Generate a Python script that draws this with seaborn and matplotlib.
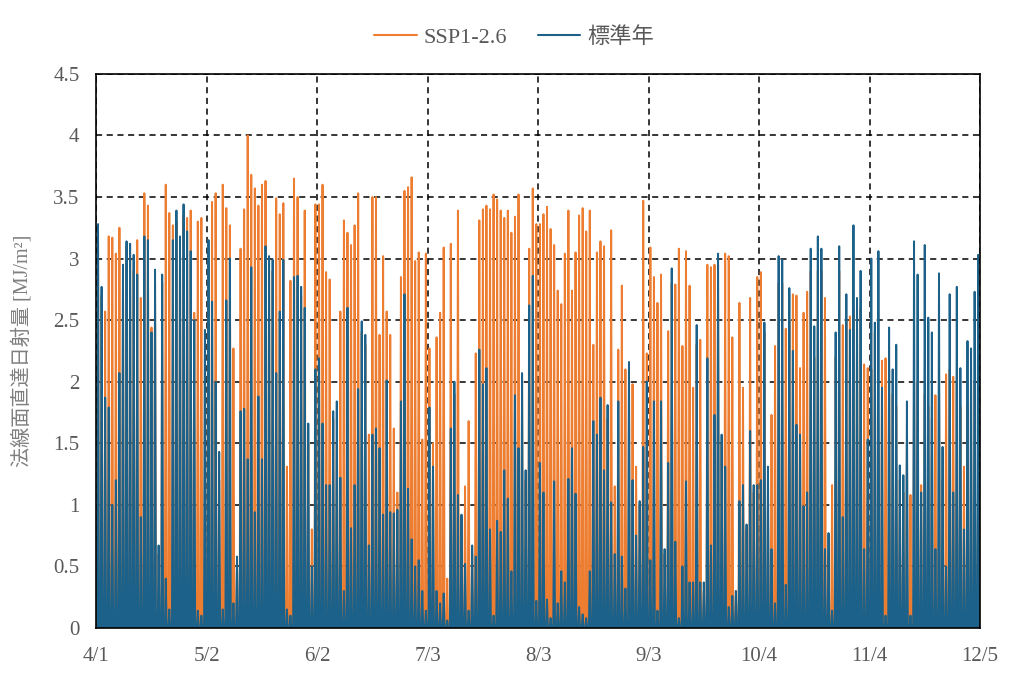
import numpy as np
import pandas as pd
import matplotlib
matplotlib.use("Agg")
import matplotlib.pyplot as plt
import matplotlib.dates as mdates
import seaborn as sns

# daily peak values (MJ/m2), 4/1 .. 12/4
ssp = [
    3.2, 2.7, 2.57, 3.18, 3.17, 3.04, 3.25, 2.9, 3.1, 3.0, 2.9, 3.15, 2.68, 3.53, 3.43, 2.44, 2.8, 0.6, 2.8, 3.6, 3.37, 3.27, 3.3, 3.1, 3.35, 3.33, 3.39, 2.56, 3.3, 3.33, 2.42,
    3.0, 3.46, 3.53, 1.2, 3.6, 3.41, 3.27, 2.27, 0.5, 3.08, 3.4, 4.0, 3.68, 3.57, 3.43, 3.6, 3.63, 2.9, 2.9, 3.49, 3.36, 3.45, 1.31, 2.82, 3.65, 3.5, 2.7, 3.39, 1.5, 0.8, 3.44,
    3.44, 3.6, 2.89, 2.83, 1.7, 1.5, 2.57, 3.31, 3.21, 3.11, 3.27, 3.53, 2.4, 2.3, 1.57, 3.5, 3.5, 2.38, 3.02, 2.57, 2.38, 1.62, 1.1, 2.85, 3.55, 3.58, 3.66, 2.98, 3.05, 1.53, 3.04,
    2.27, 1.5, 2.36, 2.56, 3.09, 0.4, 3.12, 1.9, 3.39, 0.9, 1.15, 1.68, 0.6, 2.23, 3.31, 3.4, 3.43, 3.4, 3.52, 3.48, 3.39, 3.33, 3.39, 3.21, 3.34, 3.52, 2.0, 1.2, 3.08, 3.57, 3.28,
    3.28, 3.36, 3.42, 3.24, 3.11, 2.74, 2.63, 3.04, 3.39, 2.74, 3.05, 3.35, 3.41, 3.22, 3.39, 2.3, 3.05, 3.14, 3.1, 1.7, 3.23, 1.15, 2.26, 2.78, 2.1, 1.9, 1.98, 1.31, 1.0, 3.47, 2.23,
    3.09, 2.85, 2.64, 2.87, 0.6, 2.41, 2.8, 2.79, 3.08, 2.29, 3.06, 2.78, 1.95, 2.3, 2.34, 0.3, 2.95, 2.93, 2.95, 2.95, 1.5, 3.04, 3.02, 2.36, 0.3, 2.64, 1.95, 0.8, 2.68, 1.1, 2.85,
    2.89, 2.4, 1.0, 1.73, 2.29, 2.8, 2.8, 2.43, 2.5, 2.71, 2.7, 2.11, 2.56, 2.73, 2.9, 2.2, 2.9, 2.9, 2.68, 0.6, 1.16, 2.2, 2.9, 2.46, 2.5, 2.53, 2.6, 2.4, 2.6, 2.14, 2.11,
    2.1, 2.4, 1.5, 2.17, 2.19, 2.1, 1.9, 1.8, 1.2, 1.1, 1.5, 1.08, 2.0, 2.0, 1.16, 1.9, 1.8, 1.7, 1.89, 2.0, 1.2, 2.06, 2.1, 2.04, 2.0, 1.8, 1.31, 1.8, 1.5, 2.0, 1.2,
]
std = [
    3.28, 2.77, 1.87, 1.79, 1.0, 1.2, 2.07, 2.95, 3.14, 3.12, 3.03, 2.87, 0.9, 3.18, 3.15, 2.4, 2.91, 0.67, 2.87, 0.4, 0.15, 3.15, 3.39, 3.18, 3.44, 3.22, 3.06, 2.5, 0.14, 0.1, 2.42,
    3.15, 2.65, 2.0, 1.43, 0.15, 2.66, 3.0, 0.2, 0.58, 1.76, 1.78, 1.37, 2.93, 0.94, 1.88, 1.37, 3.1, 3.02, 2.99, 2.07, 2.57, 2.99, 0.15, 0.1, 2.85, 2.86, 2.77, 2.6, 1.66, 0.5, 2.1,
    2.19, 1.66, 1.16, 1.16, 1.76, 1.84, 1.22, 0.3, 2.6, 0.81, 1.16, 1.94, 2.49, 2.38, 0.67, 1.57, 1.62, 1.46, 0.92, 2.01, 0.94, 0.93, 0.96, 1.84, 2.71, 1.13, 0.72, 0.5, 0.55, 0.3, 0.14,
    1.79, 1.31, 0.3, 0.2, 0.28, 0.06, 1.62, 2.0, 1.08, 0.92, 0.52, 0.14, 0.67, 0.58, 2.26, 1.98, 2.11, 0.8, 0.1, 0.87, 0.78, 1.28, 1.05, 0.46, 1.89, 1.46, 2.07, 1.28, 2.62, 2.86, 0.22,
    1.34, 1.1, 0.23, 0.08, 1.19, 0.2, 0.46, 0.37, 1.21, 1.46, 1.09, 0.17, 0.11, 0.08, 0.46, 1.68, 1.57, 1.87, 1.28, 1.81, 1.02, 0.6, 1.84, 0.58, 0.32, 2.16, 1.2, 0.75, 1.03, 1.47, 2.0,
    0.55, 1.84, 0.14, 1.84, 0.64, 1.34, 2.92, 0.7, 0.08, 0.5, 1.19, 0.37, 0.37, 2.46, 0.37, 0.37, 2.19, 0.67, 1.73, 3.04, 1.57, 1.31, 0.17, 0.26, 0.3, 1.03, 1.16, 0.84, 1.6, 1.16, 1.16,
    1.2, 2.48, 1.31, 0.64, 0.2, 3.02, 2.99, 0.35, 2.76, 2.25, 1.65, 1.57, 0.99, 1.1, 3.08, 2.45, 3.18, 3.08, 0.64, 0.77, 0.14, 2.4, 3.1, 0.9, 2.71, 2.42, 3.27, 2.68, 2.9, 0.64, 1.53,
    3.0, 2.48, 3.06, 1.95, 0.1, 2.44, 2.1, 2.3, 1.32, 1.24, 1.84, 0.1, 3.14, 2.87, 1.1, 3.11, 2.52, 2.4, 0.64, 2.88, 1.47, 0.5, 2.71, 1.1, 2.77, 2.11, 0.8, 2.33, 2.27, 2.73, 3.03,
]
labels = ["SSP1-2.6", "標準年"]
colors = ["#ED7D31", "#1B6189"]

start = pd.Timestamp("2023-04-01")
end = pd.Timestamp("2023-12-05")
days = pd.date_range(start, periods=len(ssp), freq="D")


def hourly_frame(peaks):
    # night hours are zero, peak at noon
    t, v = [], []
    for d, p in zip(days, peaks):
        t += [d + pd.Timedelta(hours=6), d + pd.Timedelta(hours=12), d + pd.Timedelta(hours=18)]
        v += [0.0, p, 0.0]
    return pd.DataFrame({"time": t, "value": v})


sns.set_style("white")
plt.rcParams["font.family"] = ["Liberation Serif", "Noto Sans CJK JP"]

fig = plt.figure(figsize=(10.24, 6.84), dpi=100)
ax = fig.add_axes([0.094, 0.082, 0.863, 0.810])

for peaks, lab, col in zip([ssp, std], labels, colors):
    df = hourly_frame(peaks)
    sns.lineplot(data=df, x="time", y="value", color=col, linewidth=1.4, label=lab, ax=ax)

ax.set_xlim(start, end)
ax.set_ylim(0, 4.5)
ax.set_yticks(np.arange(0, 4.51, 0.5))
ax.set_yticklabels(["0", "0.5", "1", "1.5", "2", "2.5", "3", "3.5", "4", "4.5"])
xt = pd.date_range(start, end, freq="31D")
ax.set_xticks(xt)
ax.xaxis.set_major_formatter(mdates.DateFormatter("%-m/%-d"))
ax.tick_params(axis="both", length=0, labelsize=15, colors="#595959")
ax.tick_params(axis="y", pad=12)
ax.tick_params(axis="x", pad=14)
ax.set_xlabel("")
ax.set_ylabel("法線面直達日射量 [MJ/m²]", fontsize=14.5, color="#7f7f7f")
ax.yaxis.set_label_coords(-0.072, 0.5)

ax.grid(True, color="black", linestyle=(0, (4, 3)), linewidth=1.1)
for s in ax.spines.values():
    s.set_color("black")
    s.set_linewidth(1.2)
    s.set_visible(True)

leg = ax.legend(loc="upper center", bbox_to_anchor=(0.502, 0.99), bbox_transform=fig.transFigure,
                ncol=2, frameon=False, handlelength=1.9, handletextpad=0.3, columnspacing=1.4,
                prop={"size": 16})
for txt in leg.get_texts():
    txt.set_color("#595959")
for line in leg.get_lines():
    line.set_linewidth(1.5)

fig.savefig("out.png", dpi=100)
